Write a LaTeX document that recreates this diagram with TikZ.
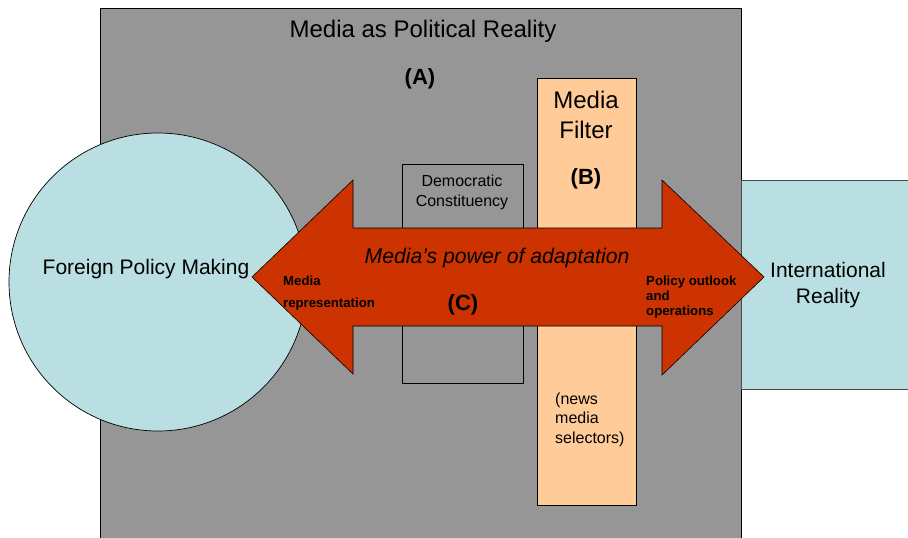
\documentclass[tikz,border=0pt]{standalone}
\usepackage{fontspec}
\setmainfont{Liberation Sans}
\definecolor{bggray}{HTML}{969696}
\definecolor{ltblue}{HTML}{BADFE2}
\definecolor{peach}{HTML}{FFCC99}
\definecolor{arrred}{HTML}{CC3300}
\definecolor{edgegray}{HTML}{4A4A4A}
\tikzset{
  shapeline/.style={draw=black, line width=0.7pt},
  txt/.style={inner sep=0pt, text=black},
  fs/.style 2 args={font=\fontsize{#1}{#2}\selectfont},
}
\begin{document}
\begin{tikzpicture}[x=1pt,y=-1pt]
\clip (0,0) rectangle (908,538);
\fill[white] (0,0) rectangle (908,538);
% outer gray frame
\node[shapeline, fill=bggray, inner sep=0pt, minimum width=641pt, minimum height=540pt, anchor=north west] (frame) at (100,8) {};
% international reality box
\node[draw=edgegray, line width=0.9pt, fill=ltblue, inner sep=0pt, minimum width=180pt, minimum height=209pt, anchor=north west] (intl) at (741,180) {};
% democratic constituency box
\node[shapeline, fill=bggray, inner sep=0pt, minimum width=121pt, minimum height=219pt, anchor=north west] (demo) at (402,164) {};
% media filter column
\node[shapeline, fill=peach, inner sep=0pt, minimum width=99pt, minimum height=427pt, anchor=north west] (filter) at (537,78) {};
% foreign policy circle
\node[shapeline, fill=ltblue, circle, inner sep=0pt, minimum size=298pt] (fpm) at (158,282) {};
% double arrow
\coordinate (ltip) at (252,277);
\coordinate (rtip) at (764,277);
\filldraw[fill=arrred, draw=black, line width=0.6pt, line join=miter]
  (ltip) -- (353,180) -- (353,228) -- (662,228) -- (662,180) -- (rtip)
  -- (662,375) -- (662,326) -- (353,326) -- (353,374) -- cycle;
% texts
\node[txt, fs={24}{28}, anchor=base] (title) at (423,37) {Media as Political Reality};
\node[txt, fs={22}{26}, anchor=base, font=\bfseries\fontsize{22}{26}\selectfont] (lblA) at (420,84) {(A)};
\node[txt, fs={24}{30}, align=center] (filtxt) at (586,114.5) {Media\\Filter};
\node[txt, anchor=base, font=\bfseries\fontsize{22}{26}\selectfont] (lblB) at (586,184) {(B)};
\node[txt, fs={16}{20}, align=center] (demotxt) at (462,192) {Democratic\\Constituency};
\node[txt, fs={21}{26}] (fpmtxt) at (146,269.5) {Foreign Policy Making};
\node[txt, fs={21}{26}, align=center] (intltxt) at (828,284.6) {International\\Reality};
\node[txt, anchor=base, font=\itshape\fontsize{21.2}{26}\selectfont] (power) at (497,263) {Media’s power of adaptation};
\node[txt, anchor=base, font=\bfseries\fontsize{22}{26}\selectfont] (lblC) at (463,310) {(C)};
\node[txt, anchor=west, align=left, font=\bfseries\fontsize{13.2}{22}\selectfont] (mrep) at (283,292.6) {Media\\representation};
\node[txt, anchor=west, align=left, font=\bfseries\fontsize{13.2}{15}\selectfont] (pol) at (646,296.6) {Policy outlook\\and\\operations};
\node[txt, anchor=west, align=left, fs={16}{19.5}] (news) at (555,419.4) {(news\\media\\selectors)};
\end{tikzpicture}
\end{document}
